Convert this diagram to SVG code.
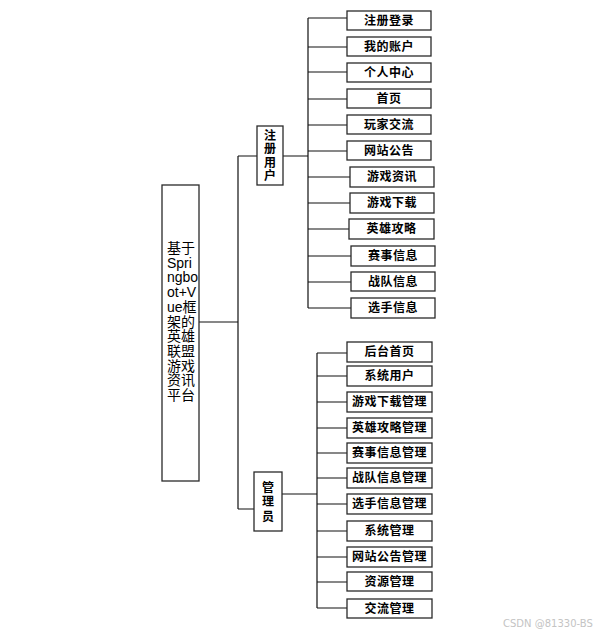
<svg xmlns="http://www.w3.org/2000/svg" width="605" height="634" viewBox="0 0 605 634">
<style>
.box{fill:#fff;stroke:#2a2a2a;stroke-width:1.3}
.lbl{font-family:"Liberation Sans","Noto Sans CJK SC",sans-serif;font-size:12px;font-weight:bold;fill:#000;text-anchor:middle;letter-spacing:0.5px}
.vl{font-family:"Liberation Sans","Noto Sans CJK SC",sans-serif;font-size:12px;font-weight:bold;fill:#000;text-anchor:middle}
.main{font-family:"Liberation Sans","Noto Sans CJK SC",sans-serif;font-size:14px;fill:#000}
.ln{fill:none;stroke:#111;stroke-width:1.2}
.wm{font-family:"DejaVu Sans","Noto Sans CJK SC",sans-serif;font-size:10px;fill:#c4c4c4}
</style>
<rect width="605" height="634" fill="#fff"/>
<g id="connectors" class="ln">
<path d="M199 322H238M238 156V509M238 156H257M238 509H254"/>
<path d="M283 156H308M308 18V308"/>
<path d="M308 18H347M308 47H347M308 72H347M308 99H347M308 125H347M308 151H347M308 177H350M308 203H350M308 229H349M308 256H351M308 282H351M308 308H351"/>
<path d="M282 494H317M317 353V608"/>
<path d="M317 353H347M317 376H347M317 402H347M317 428H347M317 453H347M317 478H347M317 504H347M317 531H347M317 557H347M317 582H347M317 608H347"/>
</g>
<g id="root">
<rect class="box" x="162" y="185" width="37" height="296"/>
<text class="main" x="167">
<tspan x="167" y="253">基于</tspan>
<tspan x="167" y="267.7">Spri</tspan>
<tspan x="167" y="282.4">ngbo</tspan>
<tspan x="167" y="297.1">ot+V</tspan>
<tspan x="167" y="311.8">ue框</tspan>
<tspan x="167" y="326.5">架的</tspan>
<tspan x="167" y="341.2">英雄</tspan>
<tspan x="167" y="355.9">联盟</tspan>
<tspan x="167" y="370.6">游戏</tspan>
<tspan x="167" y="385.3">资讯</tspan>
<tspan x="167" y="400">平台</tspan>
</text>
</g>
<g id="user">
<rect class="box" x="257" y="126" width="26" height="59"/>
<text class="vl"><tspan x="270" y="139.5">注</tspan><tspan x="270" y="153">册</tspan><tspan x="270" y="166.5">用</tspan><tspan x="270" y="180">户</tspan></text>
</g>
<g id="admin">
<rect class="box" x="254" y="472" width="28" height="59"/>
<text class="vl"><tspan x="268" y="491.5">管</tspan><tspan x="268" y="506">理</tspan><tspan x="268" y="520.5">员</tspan></text>
</g>
<g id="u1"><rect class="box" x="347" y="11" width="84" height="19"/><text class="lbl" x="389" y="24.5">注册登录</text></g>
<g id="u2"><rect class="box" x="347" y="37" width="84" height="19"/><text class="lbl" x="389" y="50.5">我的账户</text></g>
<g id="u3"><rect class="box" x="347" y="63" width="84" height="19"/><text class="lbl" x="389" y="76.5">个人中心</text></g>
<g id="u4"><rect class="box" x="347" y="89" width="84" height="19"/><text class="lbl" x="389" y="102.5">首页</text></g>
<g id="u5"><rect class="box" x="347" y="115" width="84" height="19"/><text class="lbl" x="389" y="128.5">玩家交流</text></g>
<g id="u6"><rect class="box" x="347" y="141" width="84" height="19"/><text class="lbl" x="389" y="154.5">网站公告</text></g>
<g id="u7"><rect class="box" x="350" y="167" width="84" height="20"/><text class="lbl" x="392" y="181">游戏资讯</text></g>
<g id="u8"><rect class="box" x="350" y="193" width="84" height="20"/><text class="lbl" x="392" y="207">游戏下载</text></g>
<g id="u9"><rect class="box" x="349" y="219" width="85" height="20"/><text class="lbl" x="391.5" y="233">英雄攻略</text></g>
<g id="u10"><rect class="box" x="351" y="246" width="84" height="20"/><text class="lbl" x="393" y="260">赛事信息</text></g>
<g id="u11"><rect class="box" x="351" y="272" width="84" height="19"/><text class="lbl" x="393" y="285.5">战队信息</text></g>
<g id="u12"><rect class="box" x="351" y="298" width="84" height="20"/><text class="lbl" x="393" y="312">选手信息</text></g>
<g id="a1"><rect class="box" x="347" y="342" width="85" height="20"/><text class="lbl" x="389.5" y="356">后台首页</text></g>
<g id="a2"><rect class="box" x="347" y="366" width="85" height="20"/><text class="lbl" x="389.5" y="380">系统用户</text></g>
<g id="a3"><rect class="box" x="347" y="392" width="85" height="20"/><text class="lbl" x="389.5" y="406">游戏下载管理</text></g>
<g id="a4"><rect class="box" x="347" y="418" width="85" height="20"/><text class="lbl" x="389.5" y="432">英雄攻略管理</text></g>
<g id="a5"><rect class="box" x="347" y="443" width="85" height="20"/><text class="lbl" x="389.5" y="457">赛事信息管理</text></g>
<g id="a6"><rect class="box" x="347" y="468" width="85" height="20"/><text class="lbl" x="389.5" y="482">战队信息管理</text></g>
<g id="a7"><rect class="box" x="347" y="494" width="85" height="20"/><text class="lbl" x="389.5" y="508">选手信息管理</text></g>
<g id="a8"><rect class="box" x="347" y="521" width="85" height="20"/><text class="lbl" x="389.5" y="535">系统管理</text></g>
<g id="a9"><rect class="box" x="347" y="547" width="85" height="20"/><text class="lbl" x="389.5" y="561">网站公告管理</text></g>
<g id="a10"><rect class="box" x="347" y="572" width="85" height="19"/><text class="lbl" x="389.5" y="585.5">资源管理</text></g>
<g id="a11"><rect class="box" x="347" y="599" width="85" height="19"/><text class="lbl" x="389.5" y="612.5">交流管理</text></g>
<text class="wm" x="503" y="627">CSDN @81330-BS</text>
</svg>
